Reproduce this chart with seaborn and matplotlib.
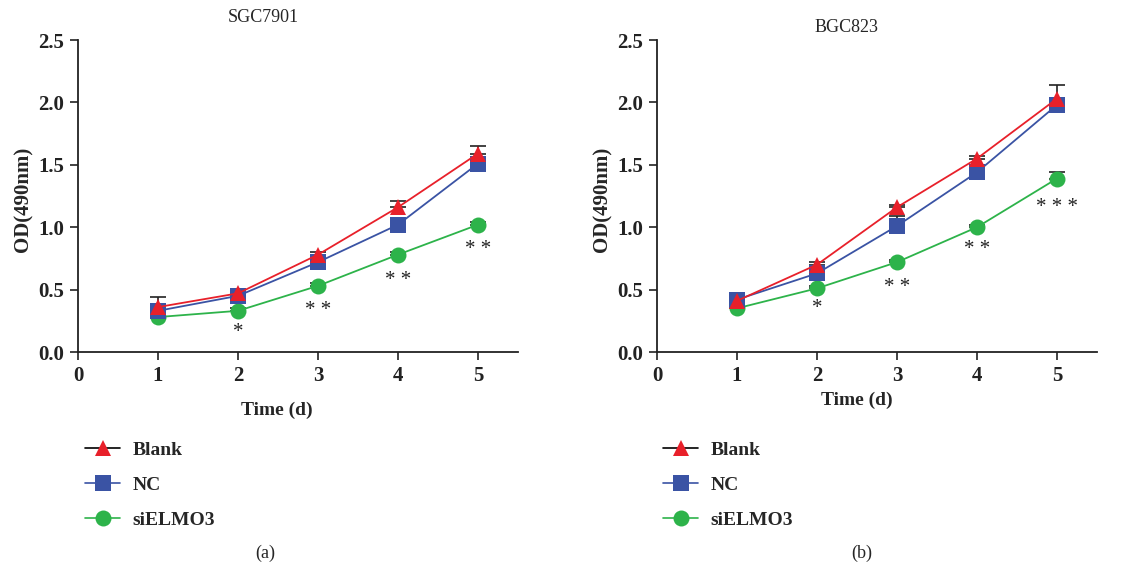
import matplotlib
matplotlib.use('Agg')
import matplotlib.pyplot as plt
import seaborn as sns
from matplotlib.lines import Line2D

days = [1, 2, 3, 4, 5]
groups = ['Blank', 'NC', 'siELMO3']

# SGC7901
sgc_blank = [0.36, 0.47, 0.78, 1.16, 1.59]
sgc_nc = [0.33, 0.45, 0.72, 1.02, 1.51]
sgc_si = [0.28, 0.33, 0.53, 0.78, 1.02]
sgc_blank_err = [0.08, 0.02, 0.02, 0.05, 0.06]
sgc_nc_err = [0.02, 0.02, 0.02, 0.02, 0.02]
sgc_si_err = [0.02, 0.02, 0.02, 0.02, 0.02]
sgc_stars = ['', '*', '* *', '* *', '* *']
sgc_star_y = [0, 0.155, 0.335, 0.575, 0.825]

# BGC823
bgc_blank = [0.41, 0.70, 1.16, 1.55, 2.03]
bgc_nc = [0.42, 0.63, 1.01, 1.44, 1.98]
bgc_si = [0.35, 0.51, 0.72, 1.00, 1.39]
bgc_blank_err = [0.02, 0.02, 0.02, 0.02, 0.11]
bgc_nc_err = [0.02, 0.02, 0.08, 0.02, 0.02]
bgc_si_err = [0.02, 0.02, 0.02, 0.02, 0.05]
bgc_stars = ['', '*', '* *', '* *', '* * *']
bgc_star_y = [0, 0.345, 0.515, 0.825, 1.155]

colors = {'Blank': '#e8202a', 'NC': '#3a53a4', 'siELMO3': '#2db34a'}
markers = {'Blank': '^', 'NC': 's', 'siELMO3': 'o'}

sns.set_style('ticks')
plt.rcParams['font.family'] = ['Liberation Serif', 'DejaVu Serif']


def draw_panel(ax, blank, nc, si, errs, stars, star_y):
    series = {'Blank': blank, 'NC': nc, 'siELMO3': si}
    for g, e in zip(groups, errs):
        ax.errorbar(days, series[g], yerr=[[0] * 5, e], fmt='none',
                    ecolor='#222222', elinewidth=1.2, capsize=6, capthick=1.2, zorder=1)
    for g in ['siELMO3', 'NC', 'Blank']:
        sns.lineplot(x=days, y=series[g], color=colors[g], marker=markers[g],
                     markersize=11.5, markeredgewidth=0, linewidth=1.3, ax=ax, zorder=3)
    for d, s, y in zip(days, stars, star_y):
        if s:
            ax.text(d, y, s, ha='center', va='center', fontsize=15, color='#222222')
    ax.set_xlim(0, 5.5)
    ax.set_ylim(0, 2.5)
    ax.set_xticks([0, 1, 2, 3, 4, 5])
    ax.set_yticks([0, 0.5, 1.0, 1.5, 2.0, 2.5])
    ax.set_yticklabels(['0.0', '0.5', '1.0', '1.5', '2.0', '2.5'])
    for lab in ax.get_xticklabels() + ax.get_yticklabels():
        lab.set_fontweight('bold')
        lab.set_fontsize(15)
    ax.tick_params(direction='out', length=6, width=1.2, colors='#222222', pad=4)
    for sp in ['left', 'bottom']:
        ax.spines[sp].set_linewidth(1.3)
        ax.spines[sp].set_color('#222222')
    sns.despine(ax=ax)
    ax.set_ylabel('OD(490nm)', fontsize=15, fontweight='bold')
    ax.set_xlabel('Time (d)', fontsize=14, fontweight='bold')
    ax.yaxis.set_label_coords(-0.102, 0.49)


fig = plt.figure(figsize=(11.41, 5.67), dpi=100)
ax1 = fig.add_axes([78 / 1141, 1 - 352 / 567, 440 / 1141, 312 / 567])
ax2 = fig.add_axes([657 / 1141, 1 - 352 / 567, 440 / 1141, 312 / 567])

draw_panel(ax1, sgc_blank, sgc_nc, sgc_si,
           [sgc_blank_err, sgc_nc_err, sgc_si_err], sgc_stars, sgc_star_y)
draw_panel(ax2, bgc_blank, bgc_nc, bgc_si,
           [bgc_blank_err, bgc_nc_err, bgc_si_err], bgc_stars, bgc_star_y)
ax1.xaxis.set_label_coords(0.452, -0.16)
ax2.xaxis.set_label_coords(0.455, -0.127)

fig.text(263 / 1141, 1 - 18 / 567, 'SGC7901', ha='center', va='center', fontsize=13)
fig.text(847 / 1141, 1 - 27 / 567, 'BGC823', ha='center', va='center', fontsize=13)

handles = [
    Line2D([], [], color='black', marker='^', markerfacecolor=colors['Blank'],
           markeredgewidth=0, markersize=11.5, linewidth=1.2),
    Line2D([], [], color=colors['NC'], marker='s', markerfacecolor=colors['NC'],
           markeredgewidth=0, markersize=11.5, linewidth=1.2),
    Line2D([], [], color=colors['siELMO3'], marker='o', markerfacecolor=colors['siELMO3'],
           markeredgewidth=0, markersize=11.5, linewidth=1.2),
]
for x0 in [85 / 1141, 663 / 1141]:
    fig.legend(handles, groups, loc='upper left', bbox_to_anchor=(x0, 1 - 441 / 567),
               frameon=False, borderpad=0, borderaxespad=0, handlelength=1.8,
               handletextpad=0.65, labelspacing=0.9, prop={'weight': 'bold', 'size': 14})

fig.text(265 / 1141, 1 - 553 / 567, '(a)', ha='center', va='center', fontsize=13)
fig.text(862 / 1141, 1 - 553 / 567, '(b)', ha='center', va='center', fontsize=13)

fig.savefig('out.png', dpi=100)
